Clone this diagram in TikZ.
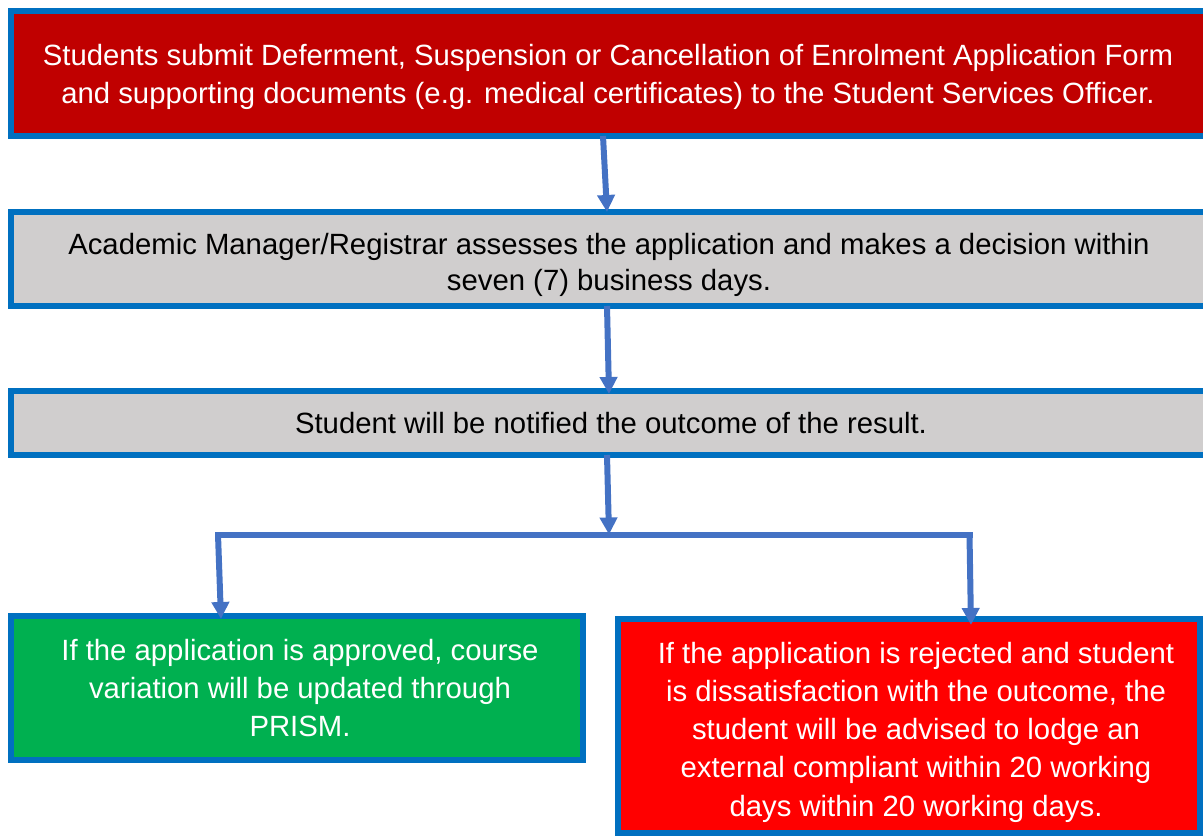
\documentclass[tikz,border=0pt]{standalone}
\usepackage{fontspec}
\setmainfont{Liberation Sans}
\usetikzlibrary{arrows.meta,calc}
\definecolor{bordblue}{HTML}{0070C0}
\definecolor{arrblue}{HTML}{4472C4}
\definecolor{darkred}{HTML}{C00000}
\definecolor{boxgray}{HTML}{D0CECE}
\definecolor{boxgreen}{HTML}{00B050}
\definecolor{boxred}{HTML}{FF0000}
\begin{document}
\begin{tikzpicture}[x=1pt,y=-1pt,
  box/.style={draw=bordblue, line width=6pt, rectangle, inner sep=0pt, outer sep=0pt},
  txt/.style={inner sep=0pt, align=center, font=\fontsize{29.3}{37.5}\selectfont},
  conn/.style={draw=arrblue, line width=6pt},
  arr/.style={conn, -{Triangle[width=17pt,length=17pt]}}]
\useasboundingbox (0,0) rectangle (1203,837);
\node[box, fill=darkred, minimum width=1201pt, minimum height=125pt] (top) at (611.5,73.5) {};
\node[box, fill=boxgray, minimum width=1201pt, minimum height=94pt] (assess) at (611.5,259) {};
\node[box, fill=boxgray, minimum width=1201pt, minimum height=64pt] (notify) at (611.5,423) {};
\node[box, fill=boxgreen, minimum width=572pt, minimum height=144pt] (approved) at (297,688) {};
\node[box, fill=boxred, minimum width=582pt, minimum height=214pt] (rejected) at (909,726) {};
\node[txt, text=white] (toptext) at (608,77)
  {Students submit Deferment, Suspension or Cancellation of Enrolment Application Form\\and supporting documents (e.g. medical certificates) to the Student Services Officer.};
\node[txt, text=black, font=\fontsize{29.3}{36}\selectfont] (assesstext) at (609,264.5)
  {Academic Manager/Registrar assesses the application and makes a decision within\\seven (7) business days.};
\node[txt, text=black] (notifytext) at (611,423)
  {Student will be notified the outcome of the result.};
\node[txt, text=white, font=\fontsize{29.3}{38}\selectfont] (approvedtext) at (300,688)
  {If the application is approved, course\\variation will be updated through\\PRISM.};
\node[txt, text=white, font=\fontsize{29.3}{38.25}\selectfont] (rejectedtext) at (916,732)
  {If the application is rejected and student\\is dissatisfaction with the outcome, the\\student will be advised to lodge an\\external compliant within 20 working\\days within 20 working days.};
\coordinate (jn) at (609,534.5);
\coordinate (jl) at (218,534.5);
\coordinate (jr) at (969.5,534.5);
\draw[arr] ([xshift=-8.5pt]top.south) -- ([xshift=-4.5pt]assess.north);
\draw[arr] ([xshift=-4.5pt]assess.south) -- ([xshift=-2.5pt,yshift=-3pt]notify.north);
\draw[arr] ([xshift=-4.5pt]notify.south) -- (jn);
\draw[conn] ([xshift=-3pt]jl) -- ([xshift=3pt]jr);
\draw[arr] (jl) -- ([xshift=-76pt,yshift=-3pt]approved.north);
\draw[arr] (jr) -- ([xshift=62pt,yshift=-6pt]rejected.north);
\end{tikzpicture}
\end{document}
